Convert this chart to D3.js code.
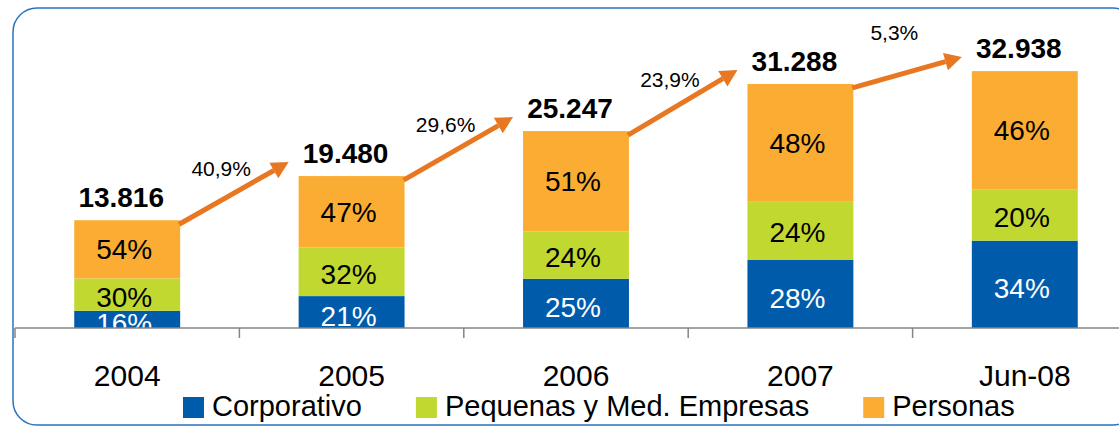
<!DOCTYPE html>
<html>
<head>
<meta charset="utf-8">
<script src="https://cdn.jsdelivr.net/npm/d3@7"></script>
<style>
  html, body { margin: 0; padding: 0; background: #fff; }
  svg { display: block; font-family: "Liberation Sans", Arial, sans-serif; }
</style>
</head>
<body>
<div id="chart"></div>
<script>
// data
const categories = ["2004", "2005", "2006", "2007", "Jun-08"];
const totals = [13816, 19480, 25247, 31288, 32938];
const totalLabels = ["13.816", "19.480", "25.247", "31.288", "32.938"];
const corporativo = [16, 21, 25, 28, 34];
const pymes = [30, 32, 24, 24, 20];
const personas = [54, 47, 51, 48, 46];
const growthLabels = ["40,9%", "29,6%", "23,9%", "5,3%"];
const seriesNames = ["Corporativo", "Pequenas y Med. Empresas", "Personas"];
const seriesColors = ["#005bab", "#c0d82f", "#fbad33"];

const width = 1119, height = 426;
const axisY = 328;

const svg = d3.select("#chart").append("svg")
  .attr("width", width)
  .attr("height", height);

// rounded frame
svg.append("rect")
  .attr("x", 13).attr("y", 8)
  .attr("width", 1124).attr("height", 417)
  .attr("rx", 24).attr("ry", 24)
  .attr("fill", "none")
  .attr("stroke", "#2a73c0")
  .attr("stroke-width", 1.5);

// table for the stack: segment values in the same units as totals
const shares = [corporativo, pymes, personas];
const rows = categories.map((c, i) => {
  const r = { cat: c, total: totals[i] };
  seriesNames.forEach((s, j) => { r[s] = totals[i] * shares[j][i] / 100; });
  return r;
});
const stacked = d3.stack().keys(seriesNames)(rows);

const xScale = d3.scaleBand()
  .domain(categories)
  .range([15, 1137])
  .paddingInner(0.528)
  .paddingOuter(0.264);
const step = xScale.step();
const bw = xScale.bandwidth();

const yScale = d3.scaleLinear()
  .domain([0, 40000])
  .range([axisY, 16]);

svg.append("clipPath").attr("id", "plotClip")
  .append("rect").attr("x", 0).attr("y", 0).attr("width", width).attr("height", axisY);

const plot = svg.append("g").attr("clip-path", "url(#plotClip)");

// bars
const layer = plot.selectAll("g.layer")
  .data(stacked)
  .enter().append("g")
  .attr("class", "layer")
  .attr("fill", (d, i) => seriesColors[i]);

layer.selectAll("rect")
  .data(d => d)
  .enter().append("rect")
  .attr("x", d => xScale(d.data.cat))
  .attr("y", d => yScale(d[1]))
  .attr("width", bw)
  .attr("height", d => yScale(d[0]) - yScale(d[1]));

// percentage labels inside the segments (lower ones sit a bit low, as in the original)
const labelDrop = [14, 12, 10];
stacked.forEach((s, j) => {
  plot.append("g").selectAll("text")
    .data(s)
    .enter().append("text")
    .attr("x", d => xScale(d.data.cat) + bw / 2 - 3)
    .attr("y", d => (yScale(d[0]) + yScale(d[1])) / 2 + labelDrop[j])
    .attr("text-anchor", "middle")
    .attr("font-size", 28)
    .attr("fill", j === 0 ? "#ffffff" : "#000000")
    .text((d, i) => shares[j][i] + "%");
});

// axis line and boundary ticks
svg.append("line")
  .attr("x1", 15).attr("x2", width)
  .attr("y1", axisY).attr("y2", axisY)
  .attr("stroke", "#858585").attr("stroke-width", 1.5);

svg.append("g").selectAll("line")
  .data(categories)
  .enter().append("line")
  .attr("x1", d => xScale(d) - step * xScale.paddingOuter())
  .attr("x2", d => xScale(d) - step * xScale.paddingOuter())
  .attr("y1", axisY).attr("y2", axisY + 10)
  .attr("stroke", "#858585").attr("stroke-width", 1.5);

// category labels
const xAxis = svg.append("g")
  .attr("transform", `translate(0,${axisY})`)
  .call(d3.axisBottom(xScale).tickSize(0));
xAxis.select(".domain").remove();
xAxis.selectAll("text")
  .attr("y", 58)
  .attr("dy", null)
  .attr("font-size", 30)
  .attr("font-family", "Liberation Sans, Arial, sans-serif")
  .attr("fill", "#000");

// totals above the bars
svg.append("g").selectAll("text")
  .data(rows)
  .enter().append("text")
  .attr("x", d => xScale(d.cat) + bw / 2 - 6)
  .attr("y", d => yScale(d.total) - 13)
  .attr("text-anchor", "middle")
  .attr("font-size", 28)
  .attr("font-weight", "bold")
  .attr("fill", "#000")
  .text((d, i) => totalLabels[i]);

// growth arrows between bars
const arrowColor = "#e87722";
const arrows = growthLabels.map((g, i) => ({
  label: g,
  x1: xScale(categories[i]) + bw - 1,
  y1: yScale(totals[i]) + 4,
  x2: xScale(categories[i + 1]) - 10,
  y2: yScale(totals[i + 1]) - 14
}));

const ag = svg.append("g");
arrows.forEach(a => {
  const ang = Math.atan2(a.y2 - a.y1, a.x2 - a.x1);
  const headLen = 17, headW = 9;
  const bx = a.x2 - headLen * Math.cos(ang), by = a.y2 - headLen * Math.sin(ang);
  ag.append("line")
    .attr("x1", a.x1).attr("y1", a.y1)
    .attr("x2", bx).attr("y2", by)
    .attr("stroke", arrowColor).attr("stroke-width", 5);
  const px = -Math.sin(ang) * headW, py = Math.cos(ang) * headW;
  ag.append("path")
    .attr("d", `M${a.x2},${a.y2}L${bx + px},${by + py}L${bx - px},${by - py}Z`)
    .attr("fill", arrowColor);
  ag.append("text")
    .attr("x", a.x1 + 42)
    .attr("y", a.y1 - 48)
    .attr("text-anchor", "middle")
    .attr("font-size", 21)
    .attr("fill", "#000")
    .text(a.label);
});

// legend
const legend = svg.append("g").attr("transform", "translate(183,397)");
let lx = 0;
seriesNames.forEach((s, i) => {
  legend.append("rect")
    .attr("x", lx).attr("y", 0)
    .attr("width", 21).attr("height", 21)
    .attr("fill", seriesColors[i]);
  const t = legend.append("text")
    .attr("x", lx + 29).attr("y", 19)
    .attr("font-size", 29)
    .attr("fill", "#000")
    .text(s);
  lx += 29 + t.node().getComputedTextLength() + 54;
});
</script>
</body>
</html>
